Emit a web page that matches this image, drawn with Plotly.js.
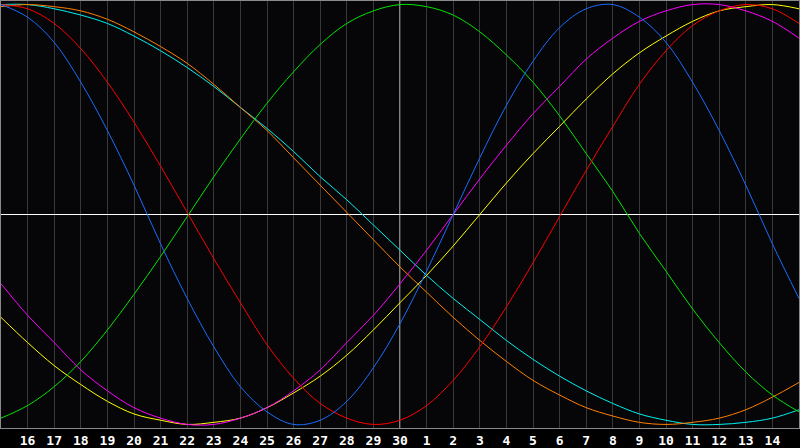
<!DOCTYPE html>
<html>
<head>
<meta charset="utf-8">
<script src="https://cdn.plot.ly/plotly-3.0.1.min.js"></script>
<style>
  html, body { margin: 0; padding: 0; background: #000; }
  #chart { width: 800px; height: 448px; }
</style>
</head>
<body>
<div id="chart"></div>
<script>
// day labels, from the 15th (left edge) to the 15th of next month (right edge)
const dayLabels = ['15', '16', '17', '18', '19', '20', '21', '22', '23', '24', '25', '26', '27', '28', '29', '30',
    '1', '2', '3', '4', '5', '6', '7', '8', '9', '10', '11', '12', '13', '14', '15'];
const today = '30';

// cycle values, one per day (-1 .. 1)
const physical = [1.00, 0.94, 0.82, 0.63, 0.40, 0.14, -0.14, -0.40, -0.63, -0.82, -0.94, -1.00, -0.98, -0.89, -0.73, -0.52,
    -0.27, 0.00, 0.27, 0.52, 0.73, 0.89, 0.98, 1.00, 0.94, 0.82, 0.63, 0.40, 0.14, -0.14, -0.40];
const emotional = [1.00, 0.98, 0.91, 0.79, 0.63, 0.44, 0.23, 0.01, -0.21, -0.42, -0.62, -0.78, -0.90, -0.97, -1.00, -0.98,
    -0.91, -0.79, -0.63, -0.44, -0.23, -0.01, 0.21, 0.42, 0.62, 0.78, 0.90, 0.97, 1.00, 0.98, 0.91];
const intellectual = [-0.97, -0.91, -0.82, -0.70, -0.55, -0.38, -0.20, -0.01, 0.18, 0.36, 0.53, 0.68, 0.81, 0.91, 0.97, 1.00,
    0.99, 0.95, 0.87, 0.76, 0.63, 0.47, 0.29, 0.11, -0.09, -0.27, -0.45, -0.61, -0.75, -0.86, -0.94];
const intuitive = [-0.33, -0.48, -0.61, -0.74, -0.84, -0.92, -0.97, -1.00, -1.00, -0.97, -0.92, -0.84, -0.74, -0.61, -0.48, -0.33,
    -0.17, 0.00, 0.17, 0.33, 0.48, 0.61, 0.74, 0.84, 0.92, 0.97, 1.00, 1.00, 0.97, 0.92, 0.84];
const aesthetic = [-0.49, -0.61, -0.72, -0.81, -0.89, -0.95, -0.98, -1.00, -0.99, -0.97, -0.92, -0.85, -0.77, -0.67, -0.55, -0.42,
    -0.29, -0.15, 0.00, 0.15, 0.29, 0.42, 0.55, 0.67, 0.77, 0.85, 0.92, 0.97, 0.99, 1.00, 0.98];
const awareness = [0.99, 1.00, 0.99, 0.97, 0.93, 0.87, 0.80, 0.72, 0.62, 0.51, 0.40, 0.27, 0.14, 0.01, -0.12, -0.25,
    -0.37, -0.49, -0.60, -0.70, -0.79, -0.86, -0.92, -0.96, -0.99, -1.00, -0.99, -0.97, -0.93, -0.87, -0.80];
const spiritual = [1.00, 1.00, 0.98, 0.95, 0.91, 0.85, 0.78, 0.70, 0.61, 0.51, 0.41, 0.30, 0.18, 0.07, -0.05, -0.17,
    -0.29, -0.40, -0.50, -0.60, -0.69, -0.77, -0.84, -0.90, -0.95, -0.98, -1.00, -1.00, -0.99, -0.97, -0.93];

const cycles = [
    { name: 'Spiritual', values: spiritual, color: '#00f0f0' },
    { name: 'Awareness', values: awareness, color: '#ff7f00' },
    { name: 'Aesthetic', values: aesthetic, color: '#ffff00' },
    { name: 'Intuitive', values: intuitive, color: '#ff00ff' },
    { name: 'Intellectual', values: intellectual, color: '#00e600' },
    { name: 'Emotional', values: emotional, color: '#ff0000' },
    { name: 'Physical', values: physical, color: '#1a6cff' }
];

// x position = day index (first label sits on the left edge)
const xs = dayLabels.map((_, i) => i);
const todayIdx = dayLabels.indexOf(today, 1);

const traces = cycles.map(c => ({
    type: 'scatter',
    mode: 'lines',
    name: c.name,
    x: xs,
    y: c.values,
    line: { color: c.color, width: 1, shape: 'spline', smoothing: 1 },
    hoverinfo: 'skip'
}));

const layout = {
    width: 800,
    height: 448,
    margin: { l: 1, r: 1, t: 1, b: 20 },
    paper_bgcolor: '#000000',
    plot_bgcolor: '#060608',
    showlegend: false,
    xaxis: {
        range: [0, dayLabels.length - 1],
        tickmode: 'array',
        tickvals: xs.slice(1, -1),
        ticktext: dayLabels.slice(1, -1),
        ticks: '',
        showgrid: true,
        gridcolor: '#383838',
        gridwidth: 1,
        zeroline: false,
        showline: true,
        mirror: true,
        linecolor: '#8a8a8a',
        linewidth: 1,
        tickfont: { family: 'DejaVu Sans Mono', size: 13, color: '#ffffff', weight: 'bold' },
        fixedrange: true
    },
    yaxis: {
        range: [-1.017, 1.017],
        showticklabels: false,
        ticks: '',
        showgrid: false,
        zeroline: true,
        zerolinecolor: '#ffffff',
        zerolinewidth: 1,
        showline: true,
        mirror: true,
        linecolor: '#8a8a8a',
        linewidth: 1,
        fixedrange: true
    },
    shapes: [{
        type: 'line',
        xref: 'x', yref: 'paper',
        x0: todayIdx, x1: todayIdx, y0: 0, y1: 1,
        line: { color: '#ffffff', width: 1 },
        layer: 'below'
    }]
};

Plotly.newPlot('chart', traces, layout, { displayModeBar: false, staticPlot: true });
</script>
</body>
</html>
